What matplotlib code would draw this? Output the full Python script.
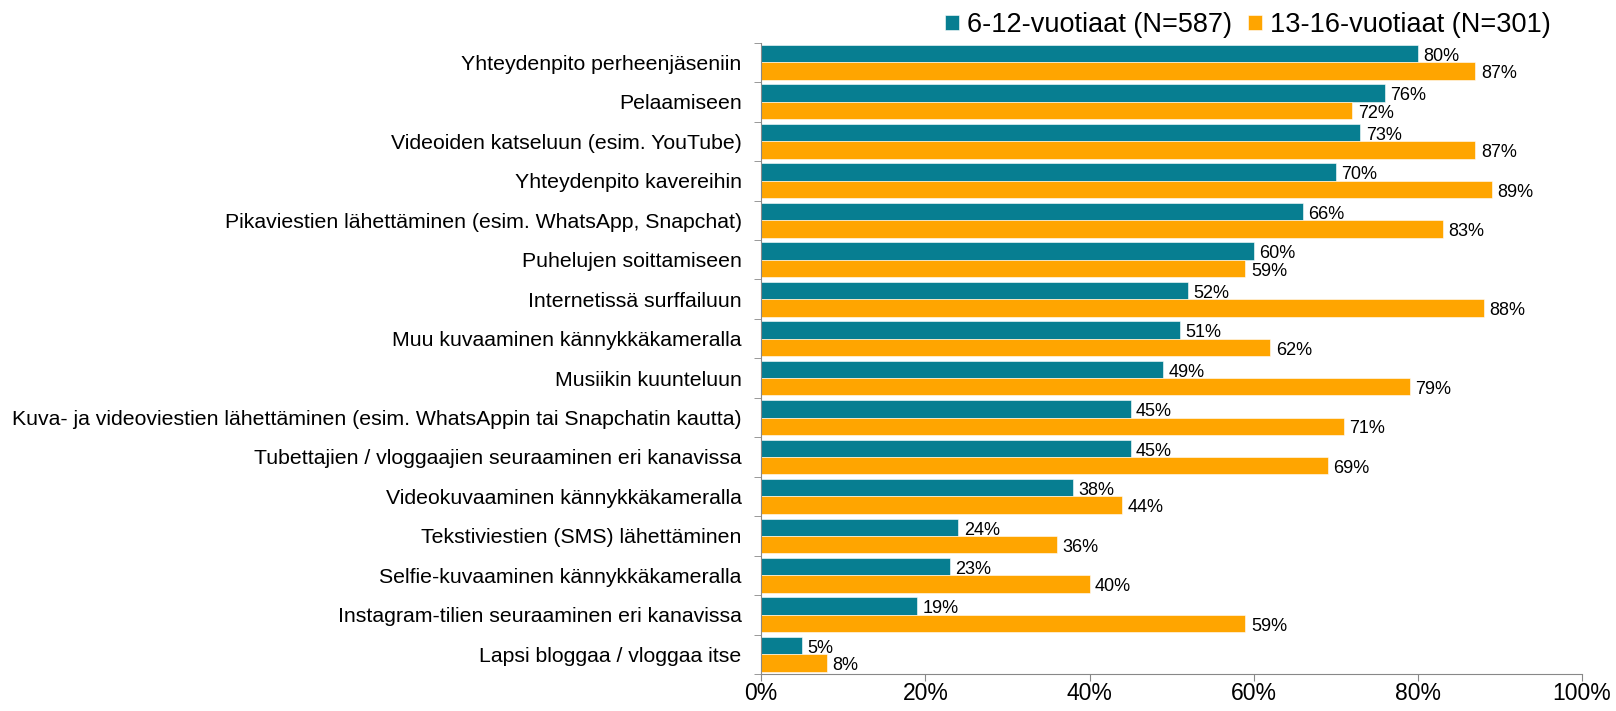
import numpy as np
import matplotlib.pyplot as plt

plt.rcParams['font.family'] = ['Liberation Sans', 'DejaVu Sans']

categories = [
    'Yhteydenpito perheenjäseniin',
    'Pelaamiseen',
    'Videoiden katseluun (esim. YouTube)',
    'Yhteydenpito kavereihin',
    'Pikaviestien lähettäminen (esim. WhatsApp, Snapchat)',
    'Puhelujen soittamiseen',
    'Internetissä surffailuun',
    'Muu kuvaaminen kännykkäkameralla',
    'Musiikin kuunteluun',
    'Kuva- ja videoviestien lähettäminen (esim. WhatsAppin tai Snapchatin kautta)',
    'Tubettajien / vloggaajien seuraaminen eri kanavissa',
    'Videokuvaaminen kännykkäkameralla',
    'Tekstiviestien (SMS) lähettäminen',
    'Selfie-kuvaaminen kännykkäkameralla',
    'Instagram-tilien seuraaminen eri kanavissa',
    'Lapsi bloggaa / vloggaa itse',
]
young = [80, 76, 73, 70, 66, 60, 52, 51, 49, 45, 45, 38, 24, 23, 19, 5]
older = [87, 72, 87, 89, 83, 59, 88, 62, 79, 71, 69, 44, 36, 40, 59, 8]
series_names = ['6-12-vuotiaat (N=587)', '13-16-vuotiaat (N=301)']

teal = '#077E91'
orange = '#FFA500'

fig = plt.figure(figsize=(16.16, 7.11), dpi=100)
ax = fig.add_axes([0.471, 0.052, 0.508, 0.888])

y = np.arange(len(categories))
h = 0.44
b1 = ax.barh(y - h / 2, young, height=h, color=teal, label=series_names[0],
             edgecolor='white', linewidth=0.4)
b2 = ax.barh(y + h / 2, older, height=h, color=orange, label=series_names[1],
             edgecolor='white', linewidth=0.4)

for bars, vals in [(b1, young), (b2, older)]:
    for bar, v in zip(bars, vals):
        ax.annotate(f'{v}%', (bar.get_width(), bar.get_y() + bar.get_height() / 2),
                    xytext=(4, -2), textcoords='offset points',
                    ha='left', va='center', fontsize=13)

ax.set_xlim(0, 100)
ax.set_ylim(len(categories) - 0.5, -0.5)
ax.set_xticks(np.arange(0, 101, 20))
ax.set_xticklabels([f'{t}%' for t in range(0, 101, 20)], fontsize=16.5)
ax.set_yticks(y)
ax.set_yticklabels(categories, fontsize=15.3)
ax.set_yticks(np.arange(-0.5, len(categories), 1), minor=True)
ax.tick_params(axis='y', which='major', length=0, pad=14)
ax.tick_params(axis='y', which='minor', length=5, color='#888888')
ax.tick_params(axis='x', length=5, color='#888888', pad=1)

for s in ['top', 'right']:
    ax.spines[s].set_visible(False)
for s in ['left', 'bottom']:
    ax.spines[s].set_color('#888888')

ax.legend(loc='lower right', bbox_to_anchor=(0.975, 0.99), ncol=2, frameon=False,
          fontsize=19.5, handlelength=0.5, handleheight=0.5, handletextpad=0.3,
          columnspacing=0.6, borderaxespad=0)

plt.savefig('out.png')
